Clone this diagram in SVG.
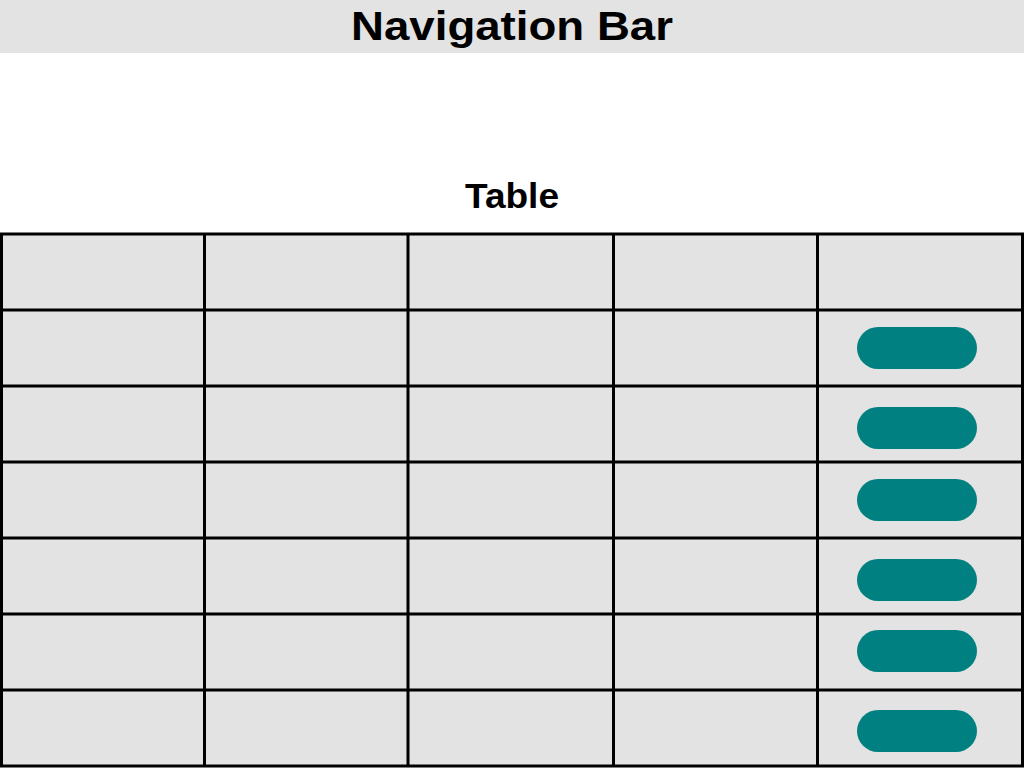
<svg xmlns="http://www.w3.org/2000/svg" width="1024" height="768" viewBox="0 0 1024 768">
<style>
.t{font-family:"Liberation Sans",Arial,sans-serif;font-weight:bold;fill:#000;text-anchor:middle}
.ln{stroke:#000;stroke-width:3;fill:none}
.btn{fill:#008080}
</style>
<rect x="0" y="0" width="1024" height="768" fill="#fff"/>
<g id="navbar">
<rect x="0" y="0" width="1024" height="53" fill="#e3e3e3"/>
<text class="t" x="512" y="40" font-size="40" textLength="322" lengthAdjust="spacingAndGlyphs">Navigation Bar</text>
</g>
<g id="table-title">
<text class="t" x="512" y="208" font-size="35" textLength="94" lengthAdjust="spacingAndGlyphs">Table</text>
</g>
<g id="table">
<rect x="1.5" y="234" width="1021" height="532" fill="#e3e3e3"/>
<g id="grid-lines">
<rect class="ln" x="1.5" y="234" width="1021" height="532"/>
<path class="ln" d="M204.5 234V766M408 234V766M613.5 234V766M817.5 234V766M1.5 310H1022.5M1.5 386H1022.5M1.5 462H1022.5M1.5 538H1022.5M1.5 614H1022.5M1.5 690H1022.5"/>
</g>
</g>
<g id="buttons">
<rect id="btn1" class="btn" x="857" y="327" width="120" height="42" rx="21"/>
<rect id="btn2" class="btn" x="857" y="407" width="120" height="42" rx="21"/>
<rect id="btn3" class="btn" x="857" y="479" width="120" height="42" rx="21"/>
<rect id="btn4" class="btn" x="857" y="559" width="120" height="42" rx="21"/>
<rect id="btn5" class="btn" x="857" y="630" width="120" height="42" rx="21"/>
<rect id="btn6" class="btn" x="857" y="710" width="120" height="42" rx="21"/>
</g>
</svg>
